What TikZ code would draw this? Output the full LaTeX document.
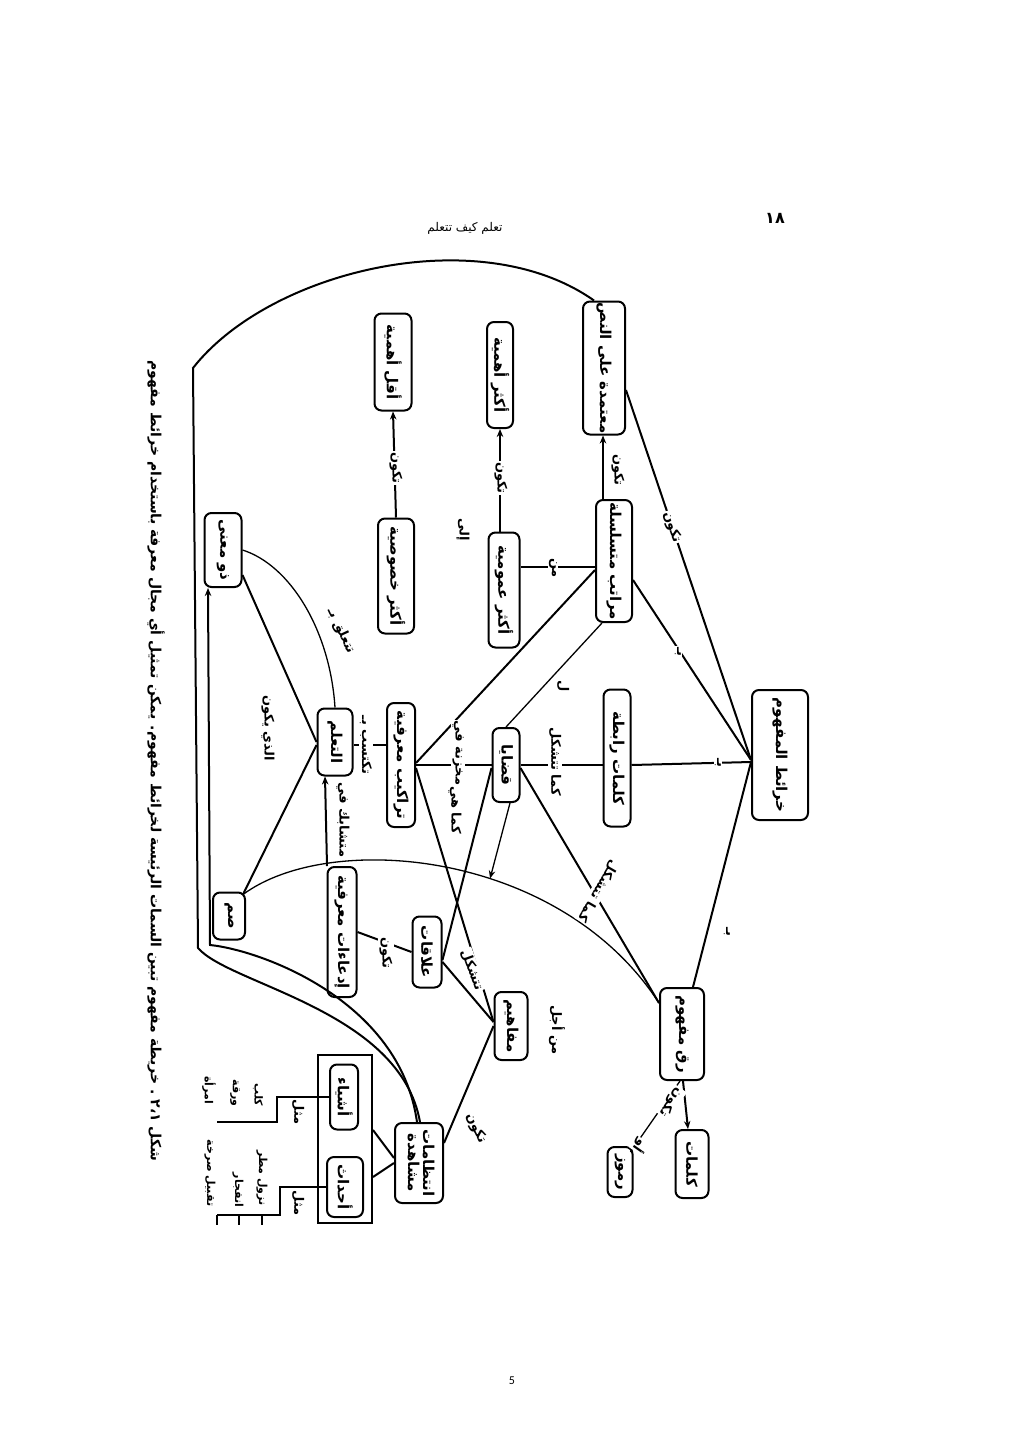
\documentclass[tikz,border=0pt]{standalone}
\usepackage{fontspec}
\usepackage{graphicx}
\usetikzlibrary{arrows.meta,calc}
\TeXXeTstate=1
\newfontfamily\arabicfont[Script=Arabic]{DejaVu Sans}
\newfontfamily\pagefont{Carlito}
\newcommand{\ar}[1]{\beginR #1\endR}
\newcommand{\vt}[1]{\rotatebox{-90}{\ar{#1}}}
\tikzset{
  box/.style={draw, line width=2pt, rounded corners=7pt, inner sep=0pt,
    font=\arabicfont\bfseries\fontsize{15}{17}\selectfont},
  frmbox/.style={draw, line width=2pt, inner sep=0pt},
  ln/.style={line width=2pt},
  tn/.style={line width=1.3pt},
  arw/.style={-{Stealth[length=8pt,width=6.5pt]}},
  lbl/.style={font=\arabicfont\bfseries\fontsize{13}{15}\selectfont, inner sep=1pt},
  vl/.style={lbl, rotate=-90},
  exl/.style={font=\arabicfont\bfseries\fontsize{11}{13}\selectfont, inner sep=1pt, rotate=-90},
  gap/.style={fill=white},
}
\begin{document}
\begin{tikzpicture}[x=1pt,y=-1pt]
\useasboundingbox (0,0) rectangle (1024,1449);
\fill[white] (0,0) rectangle (1024,1449);

% header and page number
\node[font=\arabicfont\fontsize{12}{14}\selectfont] (hdr) at (465,228) {\ar{تعلم كيف تتعلم}};
\node[font=\arabicfont\bfseries\fontsize{16}{18}\selectfont] (pg) at (775,218) {١٨};
\node[font=\pagefont\fontsize{12}{14}\selectfont] (pn) at (512,1381) {5};

% caption
\node[font=\arabicfont\bfseries\fontsize{14}{16}\selectfont, rotate=-90] (cap) at (156,761)
  {\ar{شكل \beginL .\ ٢،١\endL{} خريطة مفهوم تبين السمات الرئيسة لخرائط مفهوم. يمكن تمثيل أي مجال معرفة باستخدام خرائط مفهوم}};

% boxes
\node[box, minimum width=56pt, minimum height=130pt] (km) at (780,755) {\vt{خرائط المفهوم}};
\node[box, minimum width=42pt, minimum height=133pt] (mot) at (604,368) {\vt{معتمدة على النص}};
\node[box, minimum width=36pt, minimum height=122pt] (mar) at (614,561) {\vt{مراتب متسلسلة}};
\node[box, minimum width=31pt, minimum height=115pt] (aam) at (504,590) {\vt{أكثر عمومية}};
\node[box, minimum width=26pt, minimum height=106pt] (aah) at (500,375) {\vt{أكثر أهمية}};
\node[box, minimum width=36pt, minimum height=115pt] (akh) at (396,576) {\vt{أكثر خصوصية}};
\node[box, minimum width=37pt, minimum height=97pt] (aqh) at (393,362) {\vt{أقل أهمية}};
\node[box, minimum width=27pt, minimum height=137pt] (klr) at (617,758) {\vt{كلمات رابطة}};
\node[box, minimum width=27pt, minimum height=74pt] (qad) at (506,765) {\vt{قضايا}};
\node[box, minimum width=28pt, minimum height=124pt] (tar) at (401,765) {\vt{تراكيب معرفية}};
\node[box, minimum width=35pt, minimum height=67pt] (taa) at (335,742) {\vt{التعلم}};
\node[box, minimum width=37pt, minimum height=74pt] (dhm) at (223,550) {\vt{ذو معنى}};
\node[box, minimum width=32pt, minimum height=47pt] (sum) at (229,916) {\vt{صم}};
\node[box, minimum width=29pt, minimum height=130pt] (idd) at (342,932) {\vt{إدعاءات معرفية}};
\node[box, minimum width=29pt, minimum height=71pt] (ala) at (427,952) {\vt{علاقات}};
\node[box, minimum width=33pt, minimum height=68pt] (maf) at (511,1026) {\vt{مفاهيم}};
\node[box, minimum width=44pt, minimum height=92pt] (raq) at (682,1034) {\vt{رق مفهوم}};
\node[box, minimum width=33pt, minimum height=68pt] (kal) at (692,1164) {\vt{كلمات}};
\node[box, minimum width=25pt, minimum height=50pt] (rum) at (620,1172) {\vt{رموز}};
\node[box, minimum width=48pt, minimum height=80pt] (int) at (419,1163)
  {\rotatebox{-90}{\begin{tabular}{@{}c@{}}\ar{انتظامات}\\[-2pt]\ar{مشاهدة}\end{tabular}}};
\node[frmbox, minimum width=54pt, minimum height=168pt] (frm) at (345,1139) {};
\node[box, minimum width=28pt, minimum height=65pt] (ash) at (344,1097) {\vt{أشياء}};
\node[box, minimum width=36pt, minimum height=60pt] (ahd) at (345,1187) {\vt{أحداث}};

% waypoints
\coordinate (o1) at (198,948);
\coordinate (o2) at (193,368);
\coordinate (i1) at (210,945);
\coordinate (c1) at (277,1097);
\coordinate (c2) at (277,1122);
\coordinate (c3) at (217,1122);
\coordinate (d1) at (280,1187);
\coordinate (d2) at (280,1215);
\coordinate (d3) at (217,1215);
\coordinate (t2) at (239,1215);
\coordinate (t3) at (262,1215);

% connectors
\draw[ln,arw] ([xshift=-11pt]mar.north) -- ([xshift=-1pt]mot.south);
\draw[ln] ([yshift=-22pt]mot.east) -- ([yshift=-5pt]km.west);
\draw[ln] ([yshift=-19pt]mar.east) -- ([yshift=-5pt]km.west);
\draw[ln] ([yshift=-7pt]klr.east) -- ([yshift=-7pt]km.west);
\draw[ln] ([yshift=-7pt]km.west) -- ([xshift=11pt]raq.north);
\draw[ln] ([yshift=-6pt]mar.west) -- ([yshift=23pt]aam.east);
\draw[ln,arw] ([xshift=-4pt]aam.north) -- (aah.south);
\draw[ln,arw] (akh.north) -- (aqh.south);
\draw[ln] ([yshift=-9pt]mar.west) -- ([yshift=2pt]tar.east);
\draw[tn] ([xshift=-12pt]mar.south) -- (qad.north);
\draw[ln] (tar.east) -- (qad.west);
\draw[ln] (qad.east) -- ([yshift=-7pt]klr.west);
\draw[ln] ([yshift=-3pt]qad.east) -- ([yshift=31pt]raq.west);
\draw[tn] ([xshift=-3pt,yshift=-3pt]sum.north east) .. controls (330,830) and (560,850) .. ([yshift=31pt]raq.west) coordinate[pos=0.59] (ap);
\draw[tn,arw] ([xshift=4pt]qad.south) -- (ap);
\draw[ln] ([yshift=-3pt]tar.east) -- ([yshift=4pt]maf.west);
\draw[ln] ([yshift=-3pt]qad.west) -- ([yshift=-8pt]ala.east);
\draw[ln] ([yshift=-10pt]ala.east) -- ([yshift=4pt]maf.west);
\draw[ln] (idd.east) -- (ala.west);
\draw[ln,arw] ([xshift=-15pt]idd.north) -- ([xshift=-10pt]taa.south);
\draw[ln] ([yshift=20pt]tar.west) -- ([yshift=-3pt]taa.east);
\draw[ln] (taa.west) -- ([yshift=-25pt]dhm.east);
\draw[ln] ([yshift=-3pt]taa.west) -- ([xshift=-3pt,yshift=-3pt]sum.north east);
\draw[tn] (taa.north) .. controls (330,630) and (290,565) .. (dhm.east);
\draw[ln] ([xshift=1pt]int.north) .. controls (400,1010) and (230,985) .. (o1) -- (o2) .. controls (270,270) and (480,220) .. ([xshift=-10pt]mot.north);
\draw[ln,arw] ([xshift=-2pt]int.north) .. controls (400,1000) and (260,950) .. (i1) -- ([xshift=-15pt]dhm.south);
\draw[ln] ([yshift=20pt]int.east) -- (maf.west);
\draw[ln] ([yshift=5pt]int.west) -- ([yshift=9pt]frm.east);
\draw[ln] (int.west) -- ([yshift=-38pt]frm.east);
\draw[ln,arw] ([xshift=1pt]raq.south) -- ([xshift=-4pt]kal.north);
\draw[tn] ([xshift=-2pt]raq.south) -- ([xshift=-3pt,yshift=-6pt]rum.north east);
\draw[ln] (ash.west) -- (c1) -- (c2) -- (c3);
\draw[ln] (ahd.west) -- (d1) -- (d2) -- (d3);
\draw[ln] (d3) -- ++(0,10);
\draw[ln] (t2) -- ++(0,10);
\draw[ln] (t3) -- ++(0,10);

% link labels
\node[vl] at (618,470) {\ar{تكون}};
\node[lbl,gap,rotate=-71.6] at (672,527) {\ar{تكون}};
\node[vl,gap] at (678,652) {\ar{بـ}};
\node[vl,gap] at (718,763) {\ar{بـ}};
\node[vl] at (727,932) {\ar{بـ}};
\node[vl,gap] at (553,568) {\ar{من}};
\node[vl,gap] at (501,478) {\ar{تكون}};
\node[vl,gap] at (396,468) {\ar{تكون}};
\node[vl] at (463,530) {\ar{إلى}};
\node[vl] at (563,686) {\ar{ل}};
\node[vl,gap] at (458,753) {\ar{مخزنة في}};
\node[vl] at (455,810) {\ar{كما هي}};
\node[vl,gap] at (555,762) {\ar{كما تتشكل}};
\node[lbl,gap,rotate=-120] at (598,891) {\ar{كما تتشكل}};
\node[lbl,gap,rotate=-70] at (472,970) {\ar{تتشكل}};
\node[vl,gap] at (386,953) {\ar{تكون}};
\node[vl] at (343,820) {\ar{متشابك في}};
\node[vl,gap] at (366,745) {\ar{تكتسب بـ}};
\node[vl] at (268,728) {\ar{الذي يكون}};
\node[lbl,rotate=-65] at (341,631) {\ar{تتعلق بـ}};
\node[vl,gap] at (557,1030) {\ar{من أجل}};
\node[lbl,gap,rotate=-125] at (671,1102) {\ar{تكون}};
\node[lbl,gap,rotate=-125] at (640,1146) {\ar{أو}};
\node[lbl,rotate=-65] at (476,1128) {\ar{تكون}};
\node[vl] at (298,1112) {\ar{مثل}};
\node[vl] at (298,1203) {\ar{مثل}};

% examples
\node[exl] at (258,1095) {\ar{كلب}};
\node[exl] at (235,1093) {\ar{ورقة}};
\node[exl] at (209,1090) {\ar{امرأة}};
\node[exl] at (262,1178) {\ar{نزول مطر}};
\node[exl] at (238,1190) {\ar{انفجار}};
\node[exl] at (210,1173) {\ar{تقبيل صرخة}};
\end{tikzpicture}
\end{document}
